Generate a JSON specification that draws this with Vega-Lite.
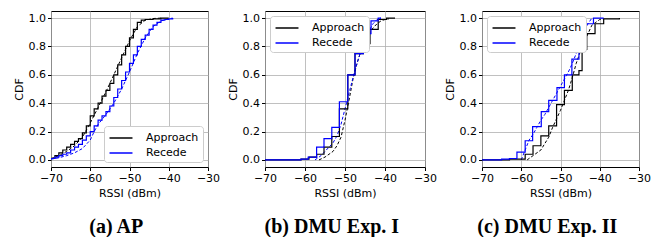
{
  "$schema": "https://vega.github.io/schema/vega-lite/v6.json",
  "padding": {"left": 12, "top": 10, "right": 0, "bottom": 0},
  "spacing": 5,
  "datasets": {
    "ap_step": [
      {"series":"Approach","rssi":-70,"cdf":0.01},{"series":"Approach","rssi":-69,"cdf":0.03},{"series":"Approach","rssi":-68,"cdf":0.05},{"series":"Approach","rssi":-67,"cdf":0.07},{"series":"Approach","rssi":-66,"cdf":0.09},{"series":"Approach","rssi":-65,"cdf":0.11},{"series":"Approach","rssi":-64,"cdf":0.13},{"series":"Approach","rssi":-63,"cdf":0.15},{"series":"Approach","rssi":-62,"cdf":0.19},{"series":"Approach","rssi":-61,"cdf":0.24},{"series":"Approach","rssi":-60,"cdf":0.31},{"series":"Approach","rssi":-59,"cdf":0.36},{"series":"Approach","rssi":-58,"cdf":0.40},{"series":"Approach","rssi":-57,"cdf":0.45},{"series":"Approach","rssi":-56,"cdf":0.49},{"series":"Approach","rssi":-55,"cdf":0.54},{"series":"Approach","rssi":-54,"cdf":0.60},{"series":"Approach","rssi":-53,"cdf":0.67},{"series":"Approach","rssi":-52,"cdf":0.74},{"series":"Approach","rssi":-51,"cdf":0.80},{"series":"Approach","rssi":-50,"cdf":0.86},{"series":"Approach","rssi":-49,"cdf":0.92},{"series":"Approach","rssi":-48,"cdf":0.97},{"series":"Approach","rssi":-47,"cdf":0.985},{"series":"Approach","rssi":-46,"cdf":0.99},{"series":"Approach","rssi":-44,"cdf":0.995},{"series":"Approach","rssi":-42,"cdf":1.0},{"series":"Approach","rssi":-40,"cdf":1.0},
      {"series":"Recede","rssi":-70,"cdf":0.01},{"series":"Recede","rssi":-69,"cdf":0.02},{"series":"Recede","rssi":-68,"cdf":0.03},{"series":"Recede","rssi":-67,"cdf":0.04},{"series":"Recede","rssi":-66,"cdf":0.05},{"series":"Recede","rssi":-65,"cdf":0.07},{"series":"Recede","rssi":-64,"cdf":0.09},{"series":"Recede","rssi":-63,"cdf":0.11},{"series":"Recede","rssi":-62,"cdf":0.14},{"series":"Recede","rssi":-61,"cdf":0.17},{"series":"Recede","rssi":-60,"cdf":0.20},{"series":"Recede","rssi":-59,"cdf":0.24},{"series":"Recede","rssi":-58,"cdf":0.28},{"series":"Recede","rssi":-57,"cdf":0.31},{"series":"Recede","rssi":-56,"cdf":0.34},{"series":"Recede","rssi":-55,"cdf":0.38},{"series":"Recede","rssi":-54,"cdf":0.44},{"series":"Recede","rssi":-53,"cdf":0.50},{"series":"Recede","rssi":-52,"cdf":0.56},{"series":"Recede","rssi":-51,"cdf":0.62},{"series":"Recede","rssi":-50,"cdf":0.68},{"series":"Recede","rssi":-49,"cdf":0.74},{"series":"Recede","rssi":-48,"cdf":0.80},{"series":"Recede","rssi":-47,"cdf":0.85},{"series":"Recede","rssi":-46,"cdf":0.88},{"series":"Recede","rssi":-45,"cdf":0.92},{"series":"Recede","rssi":-44,"cdf":0.95},{"series":"Recede","rssi":-43,"cdf":0.97},{"series":"Recede","rssi":-42,"cdf":0.985},{"series":"Recede","rssi":-41,"cdf":0.99},{"series":"Recede","rssi":-40,"cdf":0.995},{"series":"Recede","rssi":-39,"cdf":1.0}
    ],
    "ap_fit": [
      {"series":"Approach","rssi":-70,"cdf":0.01},{"series":"Approach","rssi":-68,"cdf":0.03},{"series":"Approach","rssi":-66,"cdf":0.06},{"series":"Approach","rssi":-64,"cdf":0.10},{"series":"Approach","rssi":-62,"cdf":0.16},{"series":"Approach","rssi":-60,"cdf":0.26},{"series":"Approach","rssi":-58,"cdf":0.37},{"series":"Approach","rssi":-56,"cdf":0.48},{"series":"Approach","rssi":-54,"cdf":0.60},{"series":"Approach","rssi":-52,"cdf":0.72},{"series":"Approach","rssi":-50,"cdf":0.84},{"series":"Approach","rssi":-48,"cdf":0.94},{"series":"Approach","rssi":-46,"cdf":0.985},{"series":"Approach","rssi":-44,"cdf":0.997},{"series":"Approach","rssi":-42,"cdf":1.0},
      {"series":"Recede","rssi":-70,"cdf":0.005},{"series":"Recede","rssi":-68,"cdf":0.015},{"series":"Recede","rssi":-66,"cdf":0.03},{"series":"Recede","rssi":-64,"cdf":0.05},{"series":"Recede","rssi":-62,"cdf":0.08},{"series":"Recede","rssi":-60,"cdf":0.14},{"series":"Recede","rssi":-59,"cdf":0.20},{"series":"Recede","rssi":-58,"cdf":0.25},{"series":"Recede","rssi":-56,"cdf":0.32},{"series":"Recede","rssi":-54,"cdf":0.40},{"series":"Recede","rssi":-52,"cdf":0.50},{"series":"Recede","rssi":-50,"cdf":0.62},{"series":"Recede","rssi":-48,"cdf":0.75},{"series":"Recede","rssi":-46,"cdf":0.86},{"series":"Recede","rssi":-44,"cdf":0.94},{"series":"Recede","rssi":-42,"cdf":0.98},{"series":"Recede","rssi":-40,"cdf":0.995},{"series":"Recede","rssi":-39,"cdf":1.0}
    ],
    "e1_step": [
      {"series":"Approach","rssi":-70,"cdf":0},{"series":"Approach","rssi":-61,"cdf":0.005},{"series":"Approach","rssi":-59,"cdf":0.02},{"series":"Approach","rssi":-57.1,"cdf":0.04},{"series":"Approach","rssi":-55.25,"cdf":0.09},{"series":"Approach","rssi":-53.3,"cdf":0.165},{"series":"Approach","rssi":-51.4,"cdf":0.36},{"series":"Approach","rssi":-49.3,"cdf":0.60},{"series":"Approach","rssi":-47.5,"cdf":0.75},{"series":"Approach","rssi":-45.4,"cdf":0.82},{"series":"Approach","rssi":-43.75,"cdf":0.92},{"series":"Approach","rssi":-41.7,"cdf":0.99},{"series":"Approach","rssi":-39.6,"cdf":1.0},{"series":"Approach","rssi":-37.5,"cdf":1.0},
      {"series":"Recede","rssi":-70,"cdf":0},{"series":"Recede","rssi":-61,"cdf":0.005},{"series":"Recede","rssi":-59.2,"cdf":0.02},{"series":"Recede","rssi":-57.1,"cdf":0.09},{"series":"Recede","rssi":-55.25,"cdf":0.15},{"series":"Recede","rssi":-53.3,"cdf":0.23},{"series":"Recede","rssi":-51.4,"cdf":0.41},{"series":"Recede","rssi":-49.3,"cdf":0.60},{"series":"Recede","rssi":-47.5,"cdf":0.75},{"series":"Recede","rssi":-45.4,"cdf":0.89},{"series":"Recede","rssi":-43.5,"cdf":0.98},{"series":"Recede","rssi":-41.7,"cdf":1.0},{"series":"Recede","rssi":-41,"cdf":1.0}
    ],
    "e1_fit": [
      {"series":"Approach","rssi":-56.5,"cdf":0.0},{"series":"Approach","rssi":-55,"cdf":0.02},{"series":"Approach","rssi":-53,"cdf":0.06},{"series":"Approach","rssi":-52,"cdf":0.10},{"series":"Approach","rssi":-51,"cdf":0.16},{"series":"Approach","rssi":-50,"cdf":0.28},{"series":"Approach","rssi":-49,"cdf":0.42},{"series":"Approach","rssi":-48,"cdf":0.57},{"series":"Approach","rssi":-47,"cdf":0.68},{"series":"Approach","rssi":-46,"cdf":0.77},{"series":"Approach","rssi":-45,"cdf":0.84},{"series":"Approach","rssi":-44,"cdf":0.89},{"series":"Approach","rssi":-43,"cdf":0.93},{"series":"Approach","rssi":-42,"cdf":0.96},{"series":"Approach","rssi":-41,"cdf":0.98},{"series":"Approach","rssi":-40,"cdf":0.99},{"series":"Approach","rssi":-39,"cdf":0.995},
      {"series":"Recede","rssi":-57.5,"cdf":0.0},{"series":"Recede","rssi":-56,"cdf":0.03},{"series":"Recede","rssi":-55,"cdf":0.06},{"series":"Recede","rssi":-54,"cdf":0.09},{"series":"Recede","rssi":-53,"cdf":0.12},{"series":"Recede","rssi":-52,"cdf":0.17},{"series":"Recede","rssi":-51,"cdf":0.25},{"series":"Recede","rssi":-50,"cdf":0.36},{"series":"Recede","rssi":-49,"cdf":0.47},{"series":"Recede","rssi":-48,"cdf":0.58},{"series":"Recede","rssi":-47,"cdf":0.68},{"series":"Recede","rssi":-46,"cdf":0.77},{"series":"Recede","rssi":-45,"cdf":0.85},{"series":"Recede","rssi":-44,"cdf":0.91},{"series":"Recede","rssi":-43,"cdf":0.96},{"series":"Recede","rssi":-42,"cdf":0.99},{"series":"Recede","rssi":-41,"cdf":1.0}
    ],
    "e2_step": [
      {"series":"Approach","rssi":-70,"cdf":0},{"series":"Approach","rssi":-63,"cdf":0.005},{"series":"Approach","rssi":-59,"cdf":0.04},{"series":"Approach","rssi":-57,"cdf":0.10},{"series":"Approach","rssi":-55,"cdf":0.17},{"series":"Approach","rssi":-53,"cdf":0.24},{"series":"Approach","rssi":-51,"cdf":0.39},{"series":"Approach","rssi":-49,"cdf":0.49},{"series":"Approach","rssi":-47,"cdf":0.60},{"series":"Approach","rssi":-45.3,"cdf":0.63},{"series":"Approach","rssi":-44.5,"cdf":0.78},{"series":"Approach","rssi":-43.3,"cdf":0.89},{"series":"Approach","rssi":-41.2,"cdf":0.96},{"series":"Approach","rssi":-39,"cdf":0.995},{"series":"Approach","rssi":-35,"cdf":1.0},
      {"series":"Recede","rssi":-70,"cdf":0},{"series":"Recede","rssi":-65,"cdf":0.005},{"series":"Recede","rssi":-63,"cdf":0.01},{"series":"Recede","rssi":-61.1,"cdf":0.055},{"series":"Recede","rssi":-59,"cdf":0.135},{"series":"Recede","rssi":-57.1,"cdf":0.235},{"series":"Recede","rssi":-54.9,"cdf":0.34},{"series":"Recede","rssi":-53,"cdf":0.42},{"series":"Recede","rssi":-50.9,"cdf":0.51},{"series":"Recede","rssi":-49,"cdf":0.60},{"series":"Recede","rssi":-47.1,"cdf":0.71},{"series":"Recede","rssi":-45.3,"cdf":0.83},{"series":"Recede","rssi":-43.6,"cdf":0.96},{"series":"Recede","rssi":-41.6,"cdf":1.0},{"series":"Recede","rssi":-39,"cdf":1.0}
    ],
    "e2_fit": [
      {"series":"Approach","rssi":-58.5,"cdf":0},{"series":"Approach","rssi":-57,"cdf":0.03},{"series":"Approach","rssi":-55,"cdf":0.07},{"series":"Approach","rssi":-53,"cdf":0.16},{"series":"Approach","rssi":-52,"cdf":0.23},{"series":"Approach","rssi":-51,"cdf":0.29},{"series":"Approach","rssi":-50,"cdf":0.35},{"series":"Approach","rssi":-49,"cdf":0.42},{"series":"Approach","rssi":-48,"cdf":0.49},{"series":"Approach","rssi":-47,"cdf":0.58},{"series":"Approach","rssi":-46,"cdf":0.68},{"series":"Approach","rssi":-45,"cdf":0.76},{"series":"Approach","rssi":-44,"cdf":0.83},{"series":"Approach","rssi":-43,"cdf":0.89},{"series":"Approach","rssi":-42,"cdf":0.95},{"series":"Approach","rssi":-41,"cdf":0.97},{"series":"Approach","rssi":-40,"cdf":0.99},{"series":"Approach","rssi":-39,"cdf":0.995},
      {"series":"Recede","rssi":-60,"cdf":0.0},{"series":"Recede","rssi":-59,"cdf":0.07},{"series":"Recede","rssi":-58,"cdf":0.14},{"series":"Recede","rssi":-57,"cdf":0.18},{"series":"Recede","rssi":-56,"cdf":0.23},{"series":"Recede","rssi":-55,"cdf":0.28},{"series":"Recede","rssi":-54,"cdf":0.32},{"series":"Recede","rssi":-53,"cdf":0.37},{"series":"Recede","rssi":-52,"cdf":0.42},{"series":"Recede","rssi":-51,"cdf":0.47},{"series":"Recede","rssi":-50,"cdf":0.52},{"series":"Recede","rssi":-49,"cdf":0.57},{"series":"Recede","rssi":-48,"cdf":0.62},{"series":"Recede","rssi":-47,"cdf":0.68},{"series":"Recede","rssi":-46,"cdf":0.75},{"series":"Recede","rssi":-45,"cdf":0.82},{"series":"Recede","rssi":-44,"cdf":0.90},{"series":"Recede","rssi":-43,"cdf":0.96},{"series":"Recede","rssi":-42,"cdf":1.0}
    ]
  },
  "hconcat": [
    {
      "width": 157, "height": 156,
      "title": {"text": "(a) AP"},
      "encoding": {
        "x": {"field": "rssi", "type": "quantitative", "title": "RSSI (dBm)", "scale": {"domain": [-70, -30], "nice": false}, "axis": {"values": [-70, -60, -50, -40, -30], "labelOverlap": false, "labelFlush": false, "labelExpr": "replace(datum.label, '-', '−')"}},
        "y": {"field": "cdf", "type": "quantitative", "title": "CDF", "scale": {"domain": [-0.05, 1.05], "nice": false, "zero": false}, "axis": {"values": [0, 0.2, 0.4, 0.6, 0.8, 1.0], "labelOverlap": false, "labelFlush": false, "format": ".1f"}},
        "color": {"field": "series", "type": "nominal", "scale": {"domain": ["Approach", "Recede"], "range": ["black", "blue"]}, "legend": {"orient": "bottom-right", "offset": 5, "title": null}}
      },
      "layer": [
        {"data": {"name": "ap_fit"}, "mark": {"type": "line", "strokeDash": [3, 2], "strokeWidth": 1, "clip": true}},
        {"data": {"name": "ap_step"}, "mark": {"type": "line", "interpolate": "step-after", "strokeWidth": 1.2, "clip": true}}
      ]
    },
    {
      "width": 160, "height": 156,
      "title": {"text": "(b) DMU Exp. I"},
      "encoding": {
        "x": {"field": "rssi", "type": "quantitative", "title": "RSSI (dBm)", "scale": {"domain": [-70, -30], "nice": false}, "axis": {"values": [-70, -60, -50, -40, -30], "labelOverlap": false, "labelFlush": false, "labelExpr": "replace(datum.label, '-', '−')"}},
        "y": {"field": "cdf", "type": "quantitative", "title": "CDF", "scale": {"domain": [-0.05, 1.05], "nice": false, "zero": false}, "axis": {"values": [0, 0.2, 0.4, 0.6, 0.8, 1.0], "labelOverlap": false, "labelFlush": false, "format": ".1f"}},
        "color": {"field": "series", "type": "nominal", "scale": {"domain": ["Approach", "Recede"], "range": ["black", "blue"]}, "legend": {"orient": "top-left", "offset": 5, "title": null}}
      },
      "layer": [
        {"data": {"name": "e1_fit"}, "mark": {"type": "line", "strokeDash": [3, 2], "strokeWidth": 1, "clip": true}},
        {"data": {"name": "e1_step"}, "mark": {"type": "line", "interpolate": "step-after", "strokeWidth": 1.2, "clip": true}}
      ]
    },
    {
      "width": 157, "height": 156,
      "title": {"text": "(c) DMU Exp. II"},
      "encoding": {
        "x": {"field": "rssi", "type": "quantitative", "title": "RSSI (dBm)", "scale": {"domain": [-70, -30], "nice": false}, "axis": {"values": [-70, -60, -50, -40, -30], "labelOverlap": false, "labelFlush": false, "labelExpr": "replace(datum.label, '-', '−')"}},
        "y": {"field": "cdf", "type": "quantitative", "title": "CDF", "scale": {"domain": [-0.05, 1.05], "nice": false, "zero": false}, "axis": {"values": [0, 0.2, 0.4, 0.6, 0.8, 1.0], "labelOverlap": false, "labelFlush": false, "format": ".1f"}},
        "color": {"field": "series", "type": "nominal", "scale": {"domain": ["Approach", "Recede"], "range": ["black", "blue"]}, "legend": {"orient": "top-left", "offset": 5, "title": null}}
      },
      "layer": [
        {"data": {"name": "e2_fit"}, "mark": {"type": "line", "strokeDash": [3, 2], "strokeWidth": 1, "clip": true}},
        {"data": {"name": "e2_step"}, "mark": {"type": "line", "interpolate": "step-after", "strokeWidth": 1.2, "clip": true}}
      ]
    }
  ],
  "resolve": {"scale": {"color": "independent"}, "legend": {"color": "independent"}},
  "config": {
    "background": "white",
    "view": {"stroke": "black", "strokeWidth": 1},
    "axis": {"grid": true, "gridColor": "#b0b0b0", "gridWidth": 0.8, "domain": false, "tickColor": "black", "tickSize": 3.5, "labelFont": "DejaVu Sans", "labelFontSize": 11, "labelColor": "black", "labelPadding": 2, "titleFont": "DejaVu Sans", "titleFontSize": 11, "titleFontWeight": "normal", "titleColor": "black", "titlePadding": 4},
    "legend": {"symbolType": "M-1.64,0H1.64", "symbolSize": 196, "symbolStrokeWidth": 1.5, "symbolOffset": 5, "labelFont": "DejaVu Sans", "labelFontSize": 11, "labelColor": "black", "labelOffset": 17, "fillColor": "white", "strokeColor": "#cccccc", "padding": 4, "cornerRadius": 3, "rowPadding": 2},
    "title": {"orient": "bottom", "anchor": "middle", "frame": "bounds", "font": "Liberation Serif", "fontSize": 20, "fontWeight": "bold", "color": "black", "offset": 18}
  }
}
